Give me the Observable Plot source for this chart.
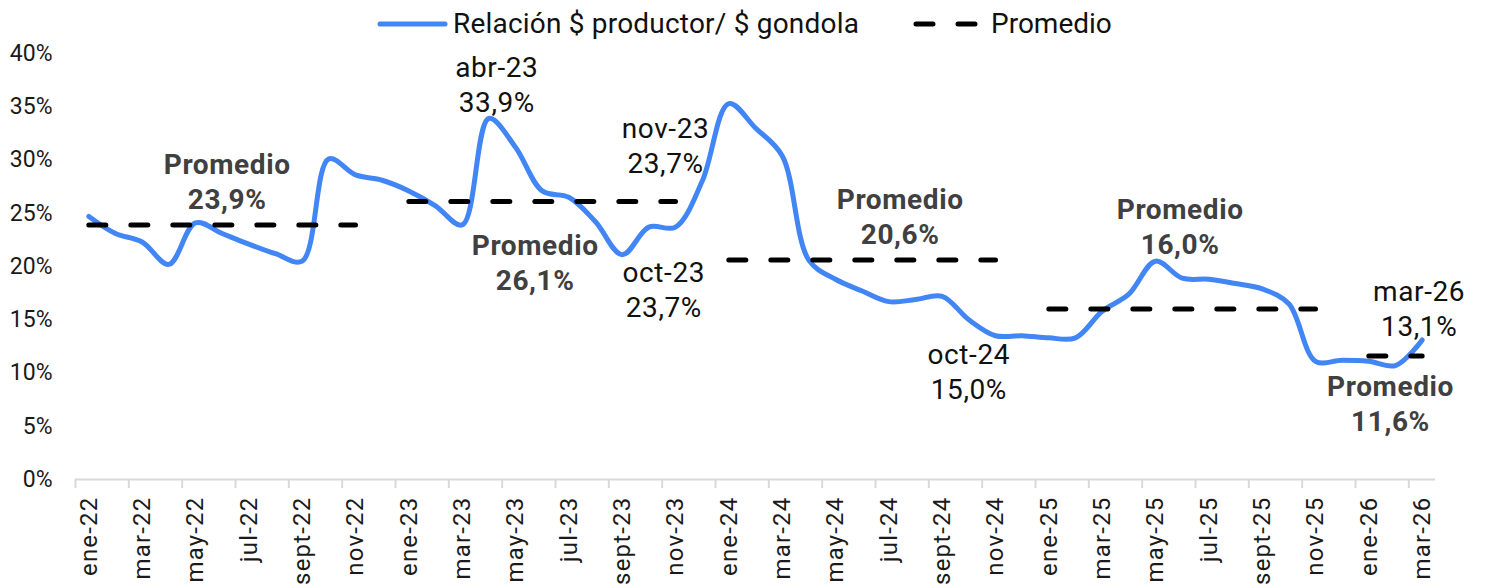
<!DOCTYPE html>
<html><head><meta charset="utf-8">
<script src="https://cdn.jsdelivr.net/npm/d3@7"></script>
<script src="https://cdn.jsdelivr.net/npm/@observablehq/plot@0.6"></script>
<style>
body{margin:0;background:#fff;font-family:Roboto,sans-serif;}
#legend{display:block;}
</style></head><body>
<svg id="legend" width="1485" height="44"></svg>
<div id="chart"></div>
<script>
const months = ["ene-22","feb-22","mar-22","abr-22","may-22","jun-22","jul-22","ago-22","sept-22","oct-22","nov-22","dic-22",
"ene-23","feb-23","mar-23","abr-23","may-23","jun-23","jul-23","ago-23","sept-23","oct-23","nov-23","dic-23",
"ene-24","feb-24","mar-24","abr-24","may-24","jun-24","jul-24","ago-24","sept-24","oct-24","nov-24","dic-24",
"ene-25","feb-25","mar-25","abr-25","may-25","jun-25","jul-25","ago-25","sept-25","oct-25","nov-25","dic-25",
"ene-26","feb-26","mar-26"];
const ratio = [24.7,23.1,22.3,20.2,24.1,23.1,22.1,21.2,20.5,30.1,28.6,28.1,
27.1,25.7,23.9,33.9,31.2,27.1,26.5,24.2,21.1,23.7,23.7,28.0,
35.3,33.0,30.4,20.6,18.8,17.7,16.7,16.9,17.2,15.0,13.5,13.5,
13.3,13.3,15.8,17.4,20.5,18.9,18.8,18.4,17.9,16.5,11.1,11.2,
11.1,10.7,13.1];
const segStart = [0,12,24,36,48];
const segEnd = [10,22,34,46,50];
const segAvg = [23.9,26.1,20.6,16.0,11.6];
const yTicks = [0,5,10,15,20,25,30,35,40];
const noteMonths = [15,22,21,33,50];
const seriesNames = ["Relación $ productor/ $ gondola","Promedio"];

// layout offsets for annotations (pixels)
const noteOffsets = [[8,-6],[-10,-54],[15,90],[0,79],[-3,-4]];
const avgOffsets = [[5,-16],[-7,88],[38,-16],[-2,-55],[-5,75]];

const fmt = v => v.toFixed(1).replace(".", ",") + "%";
const lineData = ratio.map((v,i)=>({i, v}));
const avgData = segStart.flatMap((s,k)=> d3.range(s, segEnd[k]+1).map(i=>({i, v: segAvg[k], seg:k})));
const labelIdx = d3.range(0, months.length, 2);
const boundaries = labelIdx.map(i => i - 0.5);

const BLUE = "#4285F4";
const annFont = 28;
const marks = [
  Plot.axisY({ticks: yTicks, tickSize: 0, tickPadding: 23, tickFormat: d => d + "%", fontSize: 23, label: null, fill: "#1a1a1a"}),
  Plot.ruleY([0], {stroke: "#d9d9d9", strokeWidth: 2}),
  Plot.axisX({ticks: boundaries, tickSize: 9, tickFormat: () => "", stroke: "#d9d9d9", strokeWidth: 2, label: null}),
  Plot.axisX({ticks: labelIdx, tickSize: 0, tickPadding: 17, tickRotate: -90, tickFormat: i => months[i], fontSize: 24, label: null, fill: "#1a1a1a"}),
  Plot.line(lineData, {x: "i", y: "v", stroke: BLUE, strokeWidth: 5, curve: "catmull-rom", strokeLinejoin: "round", strokeLinecap: "round"}),
  Plot.line(avgData, {x: "i", y: "v", z: "seg", stroke: "black", strokeWidth: 5, strokeDasharray: "17,25", strokeLinecap: "round"})
];
noteMonths.forEach((m, k) => {
  marks.push(Plot.text([{i: m, v: ratio[m], t: months[m] + "\n" + fmt(ratio[m])}], {
    x: "i", y: "v", text: "t", dx: noteOffsets[k][0], dy: noteOffsets[k][1],
    lineAnchor: "bottom", lineHeight: 35/annFont, fontSize: annFont, fill: "#111"
  }));
});
segStart.forEach((s, k) => {
  const mid = Math.round((s + segEnd[k]) / 2);
  marks.push(Plot.text([{i: mid, v: segAvg[k], t: "Promedio\n" + fmt(segAvg[k])}], {
    x: "i", y: "v", text: "t", dx: avgOffsets[k][0], dy: avgOffsets[k][1],
    lineAnchor: "bottom", lineHeight: 35/annFont, fontSize: annFont, fontWeight: "bold", fill: "#404040"
  }));
});

const chart = Plot.plot({
  width: 1485, height: 544,
  marginTop: 9, marginBottom: 109, marginLeft: 75, marginRight: 50,
  style: {fontFamily: "Roboto, sans-serif", background: "white", overflow: "visible"},
  x: {domain: [-0.5, 50.5], label: null},
  y: {domain: [0, 40], label: null},
  marks
});
document.getElementById("chart").appendChild(chart);
const cs = d3.select(chart);
cs.selectAll('g[aria-label="x-axis tick label"] text').attr("letter-spacing", "1.2px");
cs.selectAll('g[aria-label="text"] text').attr("letter-spacing", "0.6px");

// legend
const lg = d3.select("#legend").style("font-family", "Roboto, sans-serif");
lg.append("line").attr("x1", 380).attr("x2", 445).attr("y1", 24).attr("y2", 24)
  .attr("stroke", BLUE).attr("stroke-width", 5).attr("stroke-linecap", "round");
lg.append("text").attr("x", 453).attr("y", 33).attr("font-size", 28).attr("letter-spacing", "0.2px").attr("fill", "#111").text(seriesNames[0]);
lg.append("line").attr("x1", 916).attr("x2", 975).attr("y1", 24).attr("y2", 24)
  .attr("stroke", "black").attr("stroke-width", 5).attr("stroke-dasharray", "17,25").attr("stroke-linecap", "round");
lg.append("text").attr("x", 991).attr("y", 33).attr("font-size", 28).attr("fill", "#111").text(seriesNames[1]);
</script>
</body></html>
